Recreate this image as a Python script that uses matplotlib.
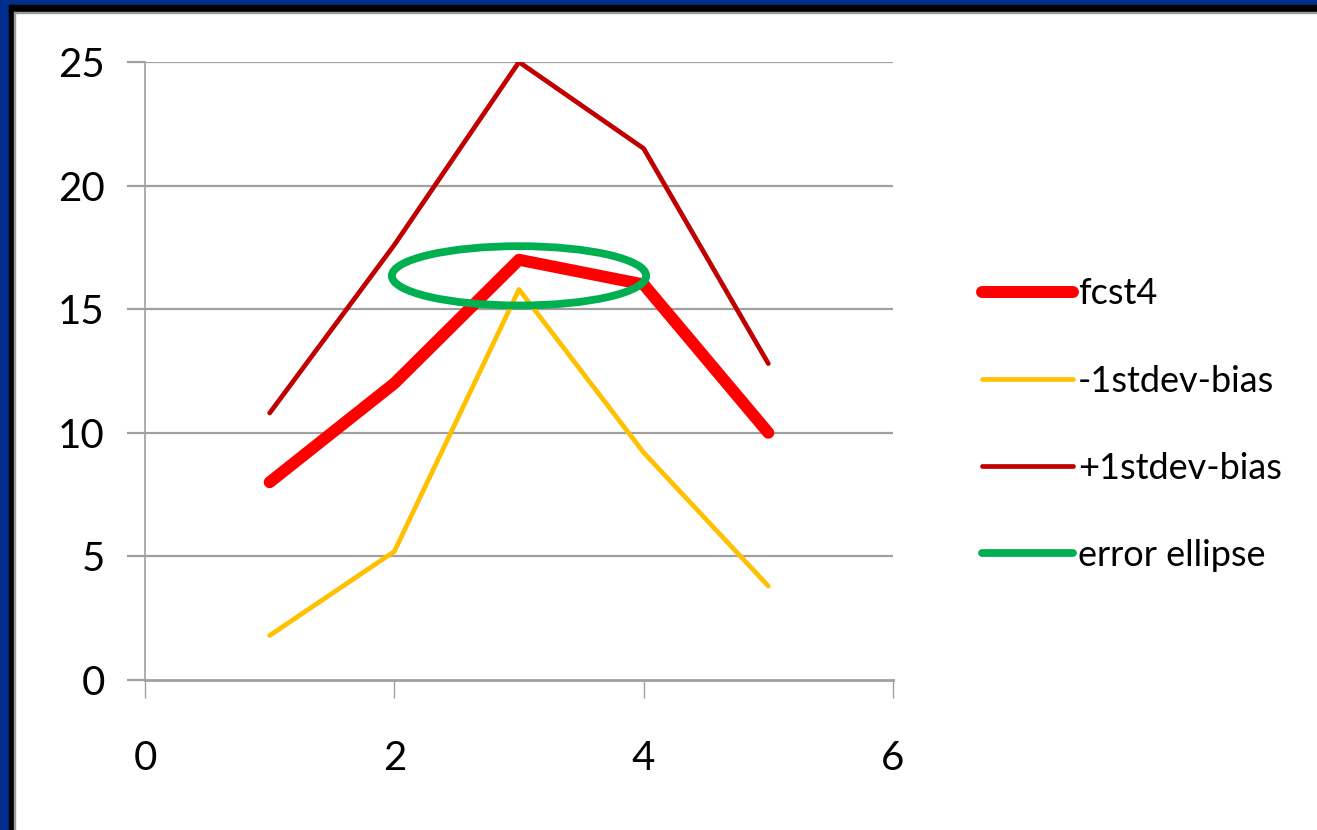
import matplotlib
matplotlib.use("Agg")
import matplotlib.pyplot as plt
from matplotlib.patches import Ellipse, Rectangle

x = [1, 2, 3, 4, 5]
fcst4 = [8.0, 12.0, 17.0, 16.0, 10.0]
minus_1sd = [1.8, 5.2, 15.8, 9.2, 3.8]
plus_1sd = [10.8, 17.6, 25.0, 21.5, 12.8]
ellipse_center = (3.0, 16.35)
ellipse_size = (2.04, 2.4)
xticks = [0, 2, 4, 6]
yticks = [0, 5, 10, 15, 20, 25]

W, H = 1317, 830
fig = plt.figure(figsize=(W / 100, H / 100), dpi=100)
fig.patch.set_facecolor("white")

# frame (top and left only)
blue = "#012E8C"
fig.patches.append(Rectangle((0, 1 - 5 / H), 1, 5 / H, transform=fig.transFigure, color=blue, zorder=0))
fig.patches.append(Rectangle((0, 0), 9 / W, 1, transform=fig.transFigure, color=blue, zorder=0))
fig.patches.append(Rectangle((9 / W, 1 - 12 / H), 1, 7 / H, transform=fig.transFigure, color="black", zorder=0))
fig.patches.append(Rectangle((9 / W, 0), 5 / W, 1 - 5 / H, transform=fig.transFigure, color="black", zorder=0))
fig.patches.append(Rectangle((14 / W, 1 - 13 / H), 1, 1 / H, transform=fig.transFigure, color="#9a9a9a", zorder=0))
fig.patches.append(Rectangle((14 / W, 0), 1 / W, 1 - 12 / H, transform=fig.transFigure, color="#9a9a9a", zorder=0))

ax = fig.add_axes([145 / W, 1 - 680 / H, (893 - 145) / W, (680 - 62) / H])
ax.set_xlim(0, 6)
ax.set_ylim(0, 25)

grid_c = "#A0A0A0"
for yv in yticks[1:]:
    ax.axhline(yv, color=grid_c, lw=1.6, zorder=1)

lkw = dict(solid_capstyle="round", solid_joinstyle="round")
ax.plot(x, fcst4, color="#FF0000", lw=8.6, label="fcst4", zorder=4, **lkw)
ax.plot(x, minus_1sd, color="#FFC000", lw=3.4, label="-1stdev-bias", zorder=3, **lkw)
ax.plot(x, plus_1sd, color="#C00000", lw=3.4, label="+1stdev-bias", zorder=3, **lkw)
ax.add_patch(Ellipse(ellipse_center, ellipse_size[0], ellipse_size[1], fill=False,
                     edgecolor="#00B050", lw=5.6, zorder=5))
ax.plot([], [], color="#00B050", lw=5.6, label="error ellipse", **lkw)

for s in ["top", "right"]:
    ax.spines[s].set_visible(False)
ax.spines["left"].set_color(grid_c)
ax.spines["left"].set_linewidth(1.2)
ax.spines["bottom"].set_color(grid_c)
ax.spines["bottom"].set_linewidth(2.0)

font = "Lato"
ax.set_xticks(xticks)
ax.set_yticks(yticks)
ax.set_xticklabels([str(v) for v in xticks], fontsize=29, family=font)
ax.set_yticklabels([str(v) for v in yticks], fontsize=29, family=font)
ax.tick_params(axis="x", length=13, width=1.0, color=grid_c, pad=30)
ax.tick_params(axis="y", length=13, width=1.6, color=grid_c, pad=16)

leg = fig.legend(loc="upper left", bbox_to_anchor=(968 / W, 1 - 263 / H), frameon=False,
                 prop={"family": font, "size": 26}, handlelength=2.5, handletextpad=0.15,
                 labelspacing=1.5, borderaxespad=0)

fig.savefig("out.png", dpi=100, facecolor="white")
